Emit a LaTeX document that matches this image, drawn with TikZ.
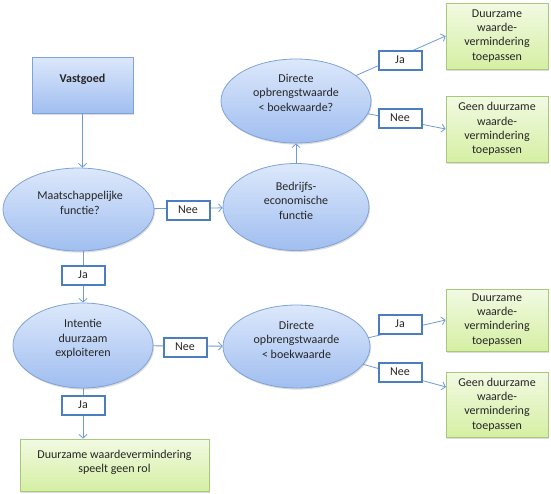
\documentclass[tikz,border=0pt]{standalone}
\usepackage{fontspec}
\setmainfont{Carlito}
\usetikzlibrary{shapes.geometric,arrows.meta,shadows}
\definecolor{elltop}{HTML}{DCE8FB}
\definecolor{ellbot}{HTML}{A0BEF0}
\definecolor{ellline}{HTML}{7FA2D8}
\definecolor{grntop}{HTML}{F2FAE3}
\definecolor{grnbot}{HTML}{D5EFA3}
\definecolor{grnline}{HTML}{A9C97A}
\definecolor{lblline}{HTML}{4A7EBF}
\definecolor{arrline}{HTML}{6E9AD6}
\definecolor{txtc}{HTML}{262626}
\tikzset{
  shad/.style={drop shadow={opacity=0.28,shadow xshift=1pt,shadow yshift=-1.6pt}},
  ell/.style={ellipse,draw=ellline,line width=0.8pt,top color=elltop,bottom color=ellbot,inner sep=0pt,shad},
  bluebox/.style={rectangle,draw=ellline,line width=0.8pt,top color=elltop,bottom color=ellbot,inner sep=0pt,shad},
  grnbox/.style={rectangle,draw=grnline,line width=0.8pt,top color=grntop,bottom color=grnbot,inner sep=0pt,shad,align=center,text=txtc,font=\fontsize{12}{14.2}\selectfont},
  txt/.style={align=center,text=txtc,inner sep=0pt,font=\fontsize{12}{14.5}\selectfont},
  lbl/.style={rectangle,draw=lblline,line width=2pt,fill=white,minimum width=43pt,minimum height=19pt,inner sep=0pt,text=txtc,font=\fontsize{12}{14}\selectfont},
  arr/.style={draw=arrline,line width=0.8pt,-{Straight Barb[length=3.6pt,width=8pt]}},
  ln/.style={draw=arrline,line width=0.8pt}
}
\begin{document}
\begin{tikzpicture}[x=1pt,y=-1pt]
\useasboundingbox (0,0) rectangle (551,493);
% shapes
\node[bluebox,minimum width=101pt,minimum height=56pt] (v) at (82.5,85) {};
\node[txt,font=\fontsize{12}{14.5}\selectfont\bfseries] (vt) at (82.5,79) {Vastgoed};
\node[ell,minimum width=151pt,minimum height=83pt] (m) at (78.5,209.5) {};
\node[txt] (mt) at (80,203) {Maatschappelijke\\functie?};
\node[ell,minimum width=146pt,minimum height=87pt] (b) at (296,207) {};
\node[txt] (bt) at (296,200.5) {Bedrijfs-\\economische\\functie};
\node[ell,minimum width=150pt,minimum height=84pt] (d1) at (296,101) {};
\node[txt] (d1t) at (296,92.5) {Directe\\opbrengstwaarde\\< boekwaarde?};
\node[ell,minimum width=140pt,minimum height=85pt] (i) at (83,345.5) {};
\node[txt] (it) at (83,339) {Intentie\\duurzaam\\exploiteren};
\node[ell,minimum width=147pt,minimum height=83pt] (d2) at (296.5,346.5) {};
\node[txt] (d2t) at (296.5,339.5) {Directe\\opbrengstwaarde\\< boekwaarde};
\node[grnbox,minimum width=102pt,minimum height=66pt] (g1) at (497,36) {Duurzame\\waarde-\\vermindering\\toepassen};
\node[grnbox,minimum width=102pt,minimum height=66pt] (g2) at (497,129) {Geen duurzame\\waarde-\\vermindering\\toepassen};
\node[grnbox,minimum width=102pt,minimum height=62pt] (g3) at (497,320) {Duurzame\\waarde-\\vermindering\\toepassen};
\node[grnbox,minimum width=102pt,minimum height=65pt] (g4) at (497,404.5) {Geen duurzame\\waarde-\\vermindering\\toepassen};
\node[grnbox,minimum width=189pt,minimum height=52pt,text depth=7pt] (gb) at (114.5,465) {Duurzame waardevermindering\\speelt geen rol};
\coordinate (g4in) at (446,387);
% connectors
\draw[arr] (v.south) -- (v.south |- m.north);
\draw[arr] (m) -- (b);
\draw[arr] (b) -- (d1);
\draw[arr] (d1.23) -- (g1.west);
\draw[arr] (d1.-10) -- (g2.west);
\draw[arr] (i.north |- m.south) -- (i.north);
\draw[arr] (i) -- (d2);
\draw[arr] (d2.7) -- (g3.west);
\draw[arr] (d2.-15) -- (g4in);
\draw[arr] (i.south) -- (i.south |- gb.north);
% labels
\node[lbl] (l1) at (188,210) {Nee};
\node[lbl] (l2) at (400,60) {Ja};
\node[lbl] (l3) at (400,118) {Nee};
\node[lbl] (l4) at (83,275) {Ja};
\node[lbl] (l5) at (185,347) {Nee};
\node[lbl] (l6) at (400,324) {Ja};
\node[lbl] (l7) at (400,372) {Nee};
\node[lbl] (l8) at (83,405) {Ja};
\end{tikzpicture}
\end{document}
